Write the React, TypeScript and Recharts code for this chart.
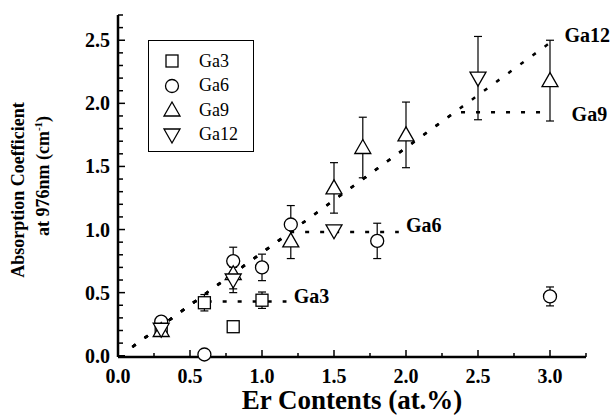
import React from "react";
import {
  ComposedChart,
  Scatter,
  Line,
  XAxis,
  YAxis,
  ErrorBar,
  Legend,
} from "recharts";

// measured points: x = Er content (at.%), y = absorption (cm-1), err = half error bar
const ga3 = [
  { x: 0.3, y: 0.21, err: 0.03 },
  { x: 0.6, y: 0.42, err: 0.065 },
  { x: 0.8, y: 0.23, err: 0 },
  { x: 1.0, y: 0.44, err: 0.065 },
];

const ga6 = [
  { x: 0.3, y: 0.27, err: 0.03 },
  { x: 0.6, y: 0.01, err: 0.02 },
  { x: 0.8, y: 0.75, err: 0.11 },
  { x: 1.0, y: 0.7, err: 0.105 },
  { x: 1.2, y: 1.04, err: 0.15 },
  { x: 1.8, y: 0.91, err: 0.14 },
  { x: 3.0, y: 0.47, err: 0.075 },
];

const ga9 = [
  { x: 0.3, y: 0.2, err: 0.03 },
  { x: 0.8, y: 0.65, err: 0.12 },
  { x: 1.2, y: 0.91, err: 0.14 },
  { x: 1.5, y: 1.33, err: 0.2 },
  { x: 1.7, y: 1.65, err: 0.24 },
  { x: 2.0, y: 1.75, err: 0.26 },
  { x: 3.0, y: 2.18, err: 0.32 },
];

const ga12 = [
  { x: 0.3, y: 0.21, err: 0 },
  { x: 0.8, y: 0.6, err: 0.1 },
  { x: 1.5, y: 0.99, err: 0 },
  { x: 2.5, y: 2.2, err: 0.33 },
];

// dotted guide lines: common slope, then saturation level
const fitGa3 = [
  { x: 0.1, y: 0.07 },
  { x: 0.535, y: 0.43 },
  { x: 1.17, y: 0.43 },
];
const fitGa6 = [
  { x: 0.1, y: 0.07 },
  { x: 1.2, y: 0.98 },
  { x: 1.95, y: 0.98 },
];
const fitGa9 = [
  { x: 0.1, y: 0.07 },
  { x: 2.34, y: 1.93 },
  { x: 3.0, y: 1.93 },
];
const fitGa12 = [
  { x: 0.1, y: 0.07 },
  { x: 3.0, y: 2.48 },
];

const seriesLabels = [
  { x: 3.1, y: 2.49, text: "Ga12" },
  { x: 3.15, y: 1.86, text: "Ga9" },
  { x: 2.0, y: 0.98, text: "Ga6" },
  { x: 1.22, y: 0.42, text: "Ga3" },
];

const xTicks = [0, 0.25, 0.5, 0.75, 1, 1.25, 1.5, 1.75, 2, 2.25, 2.5, 2.75, 3, 3.25];
const yTicks = [
  0, 0.1, 0.2, 0.3, 0.4, 0.5, 0.6, 0.7, 0.8, 0.9, 1, 1.1, 1.2, 1.3, 1.4, 1.5,
  1.6, 1.7, 1.8, 1.9, 2, 2.1, 2.2, 2.3, 2.4, 2.5, 2.6, 2.7,
];

const legendItems = [
  { name: "Ga3", kind: "square" },
  { name: "Ga6", kind: "circle" },
  { name: "Ga9", kind: "up" },
  { name: "Ga12", kind: "down" },
];

const FONT = '"Times New Roman", "Liberation Serif", Times, serif';

const Marker = ({ kind, cx, cy }: { kind: string; cx: number; cy: number }) => {
  const st = { fill: "#fff", stroke: "#000", strokeWidth: 1.3 };
  if (kind === "square") return <rect x={cx - 6} y={cy - 6} width={12} height={12} {...st} />;
  if (kind === "circle") return <circle cx={cx} cy={cy} r={6.5} {...st} />;
  if (kind === "up")
    return <polygon points={`${cx},${cy - 8} ${cx - 8},${cy + 6} ${cx + 8},${cy + 6}`} {...st} />;
  return <polygon points={`${cx - 8},${cy - 6} ${cx + 8},${cy - 6} ${cx},${cy + 8}`} {...st} />;
};

const isMajor = (v: number) => Math.abs(v * 2 - Math.round(v * 2)) < 1e-6;

const XTick = (props: any) => {
  const { x, y, payload } = props;
  const v = payload.value;
  const major = isMajor(v);
  return (
    <g>
      <line x1={x} x2={x} y1={y} y2={y - (major ? 7 : 4)} stroke="#000" strokeWidth={1.5} />
      {major && (
        <text x={x} y={y + 26} textAnchor="middle" style={{ fontFamily: FONT, fontWeight: "bold", fontSize: 20 }} fill="#000">
          {v.toFixed(1)}
        </text>
      )}
    </g>
  );
};

const YTick = (props: any) => {
  const { x, y, payload } = props;
  const v = payload.value;
  const major = isMajor(v);
  return (
    <g>
      <line x1={x} x2={x + (major ? 7 : 5)} y1={y} y2={y} stroke="#000" strokeWidth={1.5} />
      {major && (
        <text x={x - 8} y={y + 7} textAnchor="end" style={{ fontFamily: FONT, fontWeight: "bold", fontSize: 20 }} fill="#000">
          {v.toFixed(1)}
        </text>
      )}
    </g>
  );
};

const renderLegend = () => (
  <div
    style={{
      border: "1px solid #000",
      width: 106,
      height: 112,
      boxSizing: "border-box",
      paddingTop: 8,
      background: "#fff",
      fontFamily: FONT,
      fontSize: 18,
    }}
  >
    {legendItems.map((item) => (
      <div key={item.name} style={{ display: "flex", alignItems: "center", height: 24.5 }}>
        <svg width={24} height={20} style={{ marginLeft: 11 }}>
          <Marker kind={item.kind} cx={12} cy={10} />
        </svg>
        <span style={{ marginLeft: 15 }}>{item.name}</span>
      </div>
    ))}
  </div>
);

const YLabel = () => (
  <g style={{ fontFamily: FONT, fontWeight: "bold", fontSize: 18 }} fill="#000">
    <text transform="translate(24,190) rotate(-90)" textAnchor="middle">
      Absorption Coefficient
    </text>
    <text transform="translate(49,176) rotate(-90)" textAnchor="middle">
      <tspan>at 976nm (cm</tspan>
      <tspan fontSize={11} dy={-7}>-1</tspan>
      <tspan dy={7}>)</tspan>
    </text>
  </g>
);

const fits = [fitGa3, fitGa6, fitGa9, fitGa12];

const App = () => {
  return (
    <div style={{ position: "absolute", left: 0, top: 0, background: "#fff" }}>
      <ComposedChart
        width={614}
        height={415}
        margin={{ top: 15, right: 28, left: 0, bottom: 0 }}
      >
        <XAxis
          type="number"
          dataKey="x"
          domain={[0, 3.25]}
          ticks={xTicks}
          interval={0}
          tickSize={0}
          tickMargin={0}
          tickLine={false}
          tick={<XTick />}
          height={58}
          axisLine={{ stroke: "#000", strokeWidth: 2.5 }}
          label={{
            value: "Er Contents (at.%)",
            position: "insideBottom",
            offset: 6,
            style: { fontFamily: FONT, fontWeight: "bold", fontSize: 27, fill: "#000" },
          }}
        />
        <YAxis
          type="number"
          dataKey="y"
          domain={[0, 2.7]}
          ticks={yTicks}
          interval={0}
          tickSize={0}
          tickMargin={0}
          tickLine={false}
          tick={<YTick />}
          width={118}
          axisLine={{ stroke: "#000", strokeWidth: 2.5 }}
          label={{ content: () => <YLabel /> }}
        />
        <Legend
          layout="horizontal"
          verticalAlign="middle"
          align="center"
          wrapperStyle={{ left: 148, top: 40, width: 106, height: 112 }}
          content={renderLegend}
        />
        {fits.map((fit, i) => (
          <Line
            key={i}
            data={fit}
            dataKey="y"
            type="linear"
            stroke="#000"
            strokeWidth={2.5}
            strokeDasharray="4 11"
            dot={false}
            activeDot={false}
            legendType="none"
            isAnimationActive={false}
          />
        ))}
        <Scatter data={ga3} name="Ga3" isAnimationActive={false} shape={(p: any) => <Marker kind="square" cx={p.cx} cy={p.cy} />}>
          <ErrorBar dataKey="err" direction="y" width={4} stroke="#000" strokeWidth={1.2} />
        </Scatter>
        <Scatter data={ga6} name="Ga6" isAnimationActive={false} shape={(p: any) => <Marker kind="circle" cx={p.cx} cy={p.cy} />}>
          <ErrorBar dataKey="err" direction="y" width={4} stroke="#000" strokeWidth={1.2} />
        </Scatter>
        <Scatter data={ga9} name="Ga9" isAnimationActive={false} shape={(p: any) => <Marker kind="up" cx={p.cx} cy={p.cy} />}>
          <ErrorBar dataKey="err" direction="y" width={4} stroke="#000" strokeWidth={1.2} />
        </Scatter>
        <Scatter data={ga12} name="Ga12" isAnimationActive={false} shape={(p: any) => <Marker kind="down" cx={p.cx} cy={p.cy} />}>
          <ErrorBar dataKey="err" direction="y" width={4} stroke="#000" strokeWidth={1.2} />
        </Scatter>
        <Scatter
          data={seriesLabels}
          name="labels"
          legendType="none"
          isAnimationActive={false}
          shape={(p: any) => (
            <text x={p.cx} y={p.cy} style={{ fontFamily: FONT, fontWeight: "bold", fontSize: 20 }} fill="#000">
              {p.payload.text}
            </text>
          )}
        />
      </ComposedChart>
    </div>
  );
};

export default App;
